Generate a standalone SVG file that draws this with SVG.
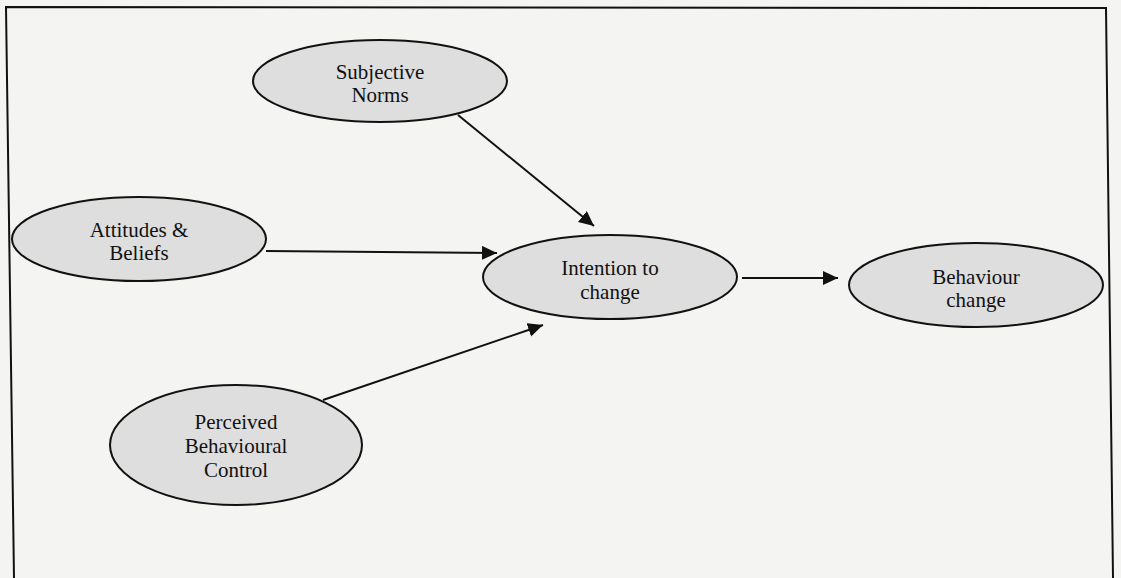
<svg xmlns="http://www.w3.org/2000/svg" width="1121" height="578" viewBox="0 0 1121 578">
  <style>
    .node ellipse { fill: #dedede; stroke: #111; stroke-width: 2; }
    .node text { font-family: "Liberation Serif", "Times New Roman", serif; font-size: 21px; fill: #111; text-anchor: middle; }
    .edge { stroke: #111; stroke-width: 2; fill: none; marker-end: url(#arrow); }
  </style>
  <defs>
    <marker id="arrow" markerUnits="userSpaceOnUse" markerWidth="16" markerHeight="16" refX="15" refY="7" orient="auto">
      <path d="M0,0 L15,7 L0,14 Z" fill="#111"/>
    </marker>
  </defs>

  <!-- page background and frame -->
  <rect x="0" y="0" width="1121" height="578" fill="#f4f4f2"/>
  <path d="M14,578 L6,7 L1106,8 L1113,578" fill="none" stroke="#111" stroke-width="2"/>

  <!-- connectors -->
  <g id="connectors">
    <line class="edge" x1="458" y1="115" x2="594" y2="226"/>
    <line class="edge" x1="266" y1="251" x2="497" y2="253"/>
    <line class="edge" x1="323" y1="400" x2="543" y2="325"/>
    <line class="edge" x1="742" y1="278" x2="838" y2="278"/>
  </g>

  <g id="subjective-norms" class="node">
    <ellipse cx="380" cy="81" rx="127" ry="41"/>
    <text x="380" y="79">Subjective</text>
    <text x="380" y="102">Norms</text>
  </g>

  <g id="attitudes-beliefs" class="node">
    <ellipse cx="139" cy="239" rx="127" ry="42"/>
    <text x="139" y="237">Attitudes &amp;</text>
    <text x="139" y="260">Beliefs</text>
  </g>

  <g id="intention-to-change" class="node">
    <ellipse cx="610" cy="277" rx="127" ry="42"/>
    <text x="610" y="275">Intention to</text>
    <text x="610" y="299">change</text>
  </g>

  <g id="behaviour-change" class="node">
    <ellipse cx="976" cy="285" rx="127" ry="42"/>
    <text x="976" y="284">Behaviour</text>
    <text x="976" y="307">change</text>
  </g>

  <g id="perceived-behavioural-control" class="node">
    <ellipse cx="236" cy="445" rx="126" ry="60"/>
    <text x="236" y="429">Perceived</text>
    <text x="236" y="453">Behavioural</text>
    <text x="236" y="477">Control</text>
  </g>
</svg>
